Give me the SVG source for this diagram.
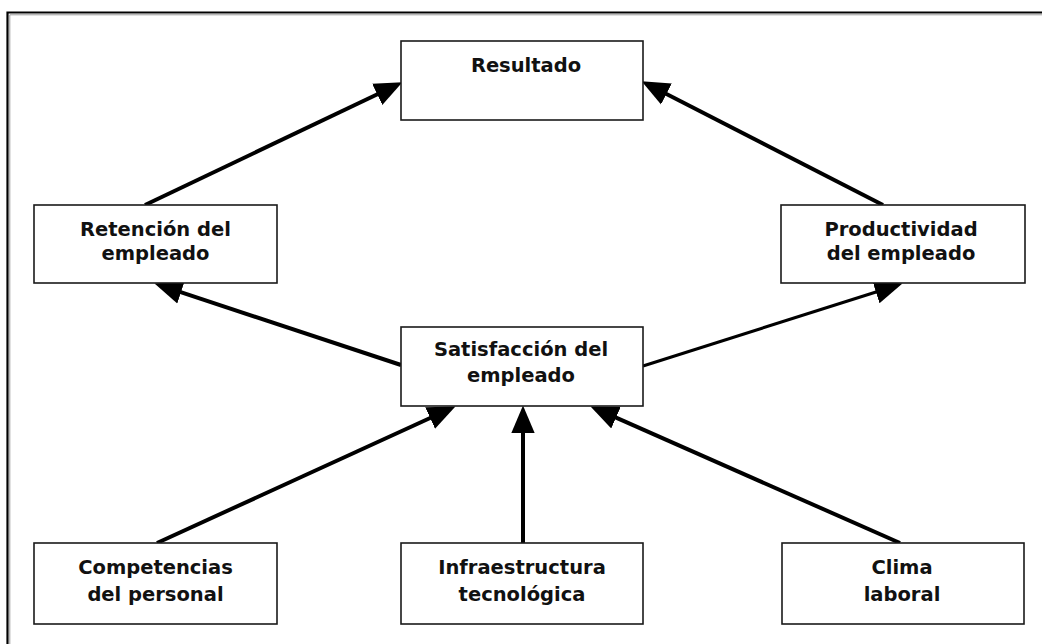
<svg xmlns="http://www.w3.org/2000/svg" width="1042" height="644" viewBox="0 0 1042 644">
  <style>
    .box { fill: #ffffff; stroke: #1a1a1a; stroke-width: 1.6; }
    .lbl { font-family: "DejaVu Sans", Verdana, sans-serif; font-weight: bold; font-size: 19.5px; fill: #111111; text-anchor: middle; }
    .arrow { stroke: #000000; stroke-width: 4; fill: none; marker-end: url(#head); }
    .arrow.thin { stroke-width: 3; }
  </style>
  <defs>
    <marker id="head" markerUnits="userSpaceOnUse" markerWidth="30" markerHeight="26" viewBox="0 -12 28 24" refX="4" refY="0" orient="auto">
      <path d="M0,-11 L26,0 L0,11 Z" fill="#000000"/>
    </marker>
  </defs>

  <!-- page frame -->
  <rect x="0" y="0" width="1042" height="644" fill="#ffffff"/>
  <path d="M7.5,700 V12.5 H1100" fill="none" stroke="#000000" stroke-width="2.2"/>
  <path d="M9.8,700 V14.8 H1100" fill="none" stroke="#9a9a9a" stroke-width="1"/>

  <!-- connectors -->
  <g id="connectors">
    <line class="arrow" x1="145" y1="205" x2="381.1" y2="92.5"/>
    <line class="arrow" x1="883" y1="205" x2="662.6" y2="92.0"/>
    <line class="arrow" x1="401" y1="365" x2="176.9" y2="290.9"/>
    <line class="arrow thin" x1="643" y1="366" x2="880.0" y2="290.7"/>
    <line class="arrow" x1="157" y1="543" x2="434.0" y2="416.2"/>
    <line class="arrow" x1="523" y1="543" x2="523" y2="429"/>
    <line class="arrow" x1="900" y1="543" x2="612.1" y2="415.9"/>
  </g>

  <!-- nodes -->
  <g id="resultado">
    <rect class="box" x="401" y="41" width="242" height="79"/>
    <text class="lbl" x="526" y="72">Resultado</text>
  </g>
  <g id="retencion">
    <rect class="box" x="34" y="205" width="243" height="78"/>
    <text class="lbl" x="155.5" y="235.5">Retención del</text>
    <text class="lbl" x="155.5" y="260">empleado</text>
  </g>
  <g id="productividad">
    <rect class="box" x="781" y="205" width="244" height="78"/>
    <text class="lbl" x="901" y="235.5">Productividad</text>
    <text class="lbl" x="901" y="260">del empleado</text>
  </g>
  <g id="satisfaccion">
    <rect class="box" x="401" y="327" width="242" height="79"/>
    <text class="lbl" x="521" y="356">Satisfacción del</text>
    <text class="lbl" x="521" y="381.5">empleado</text>
  </g>
  <g id="competencias">
    <rect class="box" x="34" y="543" width="243" height="81"/>
    <text class="lbl" x="155.5" y="573.5">Competencias</text>
    <text class="lbl" x="155.5" y="600.5">del personal</text>
  </g>
  <g id="infraestructura">
    <rect class="box" x="401" y="543" width="242" height="81"/>
    <text class="lbl" x="522" y="573.5">Infraestructura</text>
    <text class="lbl" x="522" y="600.5">tecnológica</text>
  </g>
  <g id="clima">
    <rect class="box" x="782" y="543" width="242" height="81"/>
    <text class="lbl" x="902" y="573.5">Clima</text>
    <text class="lbl" x="902" y="600.5">laboral</text>
  </g>
</svg>
